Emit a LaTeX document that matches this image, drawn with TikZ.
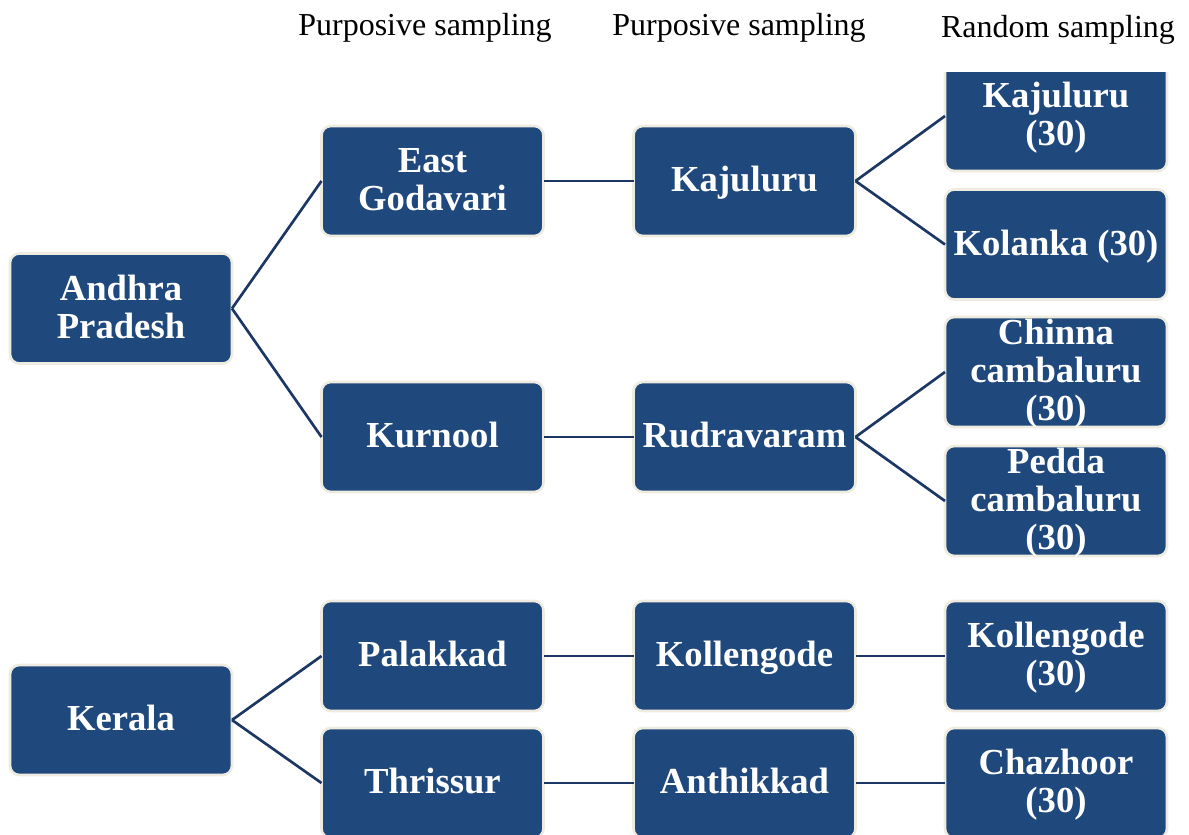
\documentclass[tikz,border=0pt]{standalone}
\usepackage{fontspec}
\setmainfont{Liberation Serif}
\definecolor{boxblue}{RGB}{31,73,125}
\definecolor{boxedge}{RGB}{238,236,225}
\definecolor{linkblue}{RGB}{28,55,100}
\begin{document}
\begin{tikzpicture}[x=0.75pt,y=-0.75pt,
  stagebox/.style={draw=boxedge,line width=2pt,fill=boxblue,rounded corners=7pt,
    minimum width=166.5pt,minimum height=82.5pt,inner sep=0pt,outer sep=0pt},
  boxtext/.style={text=white,align=center,inner sep=0pt,text depth=3pt,
    font=\bfseries\fontsize{27.5}{28.5}\selectfont},
  header/.style={inner sep=0pt,font=\fontsize{24}{28}\selectfont},
  link/.style={draw=linkblue,line width=2pt}]
\useasboundingbox (0,0) rectangle (1189,835);
\clip (0,0) rectangle (1189,835);

% column headings
\node[header,anchor=base] (h1) at (425,35) {Purposive sampling};
\node[header,anchor=base] (h2) at (739,35) {Purposive sampling};
\node[header,anchor=base] (h3) at (1058,37) {Random sampling};

% states
\node[stagebox] (ap) at (121,308.5) {};
\node[boxtext] (apt) at (ap.center) {Andhra\\Pradesh};
\node[stagebox] (kl) at (121,720) {};
\node[boxtext] (klt) at (kl.center) {Kerala};

% districts
\node[stagebox] (eg) at (432.5,181) {};
\node[boxtext] (egt) at (eg.center) {East\\Godavari};
\node[stagebox] (ku) at (432.5,437) {};
\node[boxtext] (kut) at (ku.center) {Kurnool};
\node[stagebox] (pk) at (432.5,656) {};
\node[boxtext] (pkt) at (pk.center) {Palakkad};
\node[stagebox] (th) at (432.5,783) {};
\node[boxtext] (tht) at (th.center) {Thrissur};

% blocks
\node[stagebox] (kj) at (744.5,181) {};
\node[boxtext] (kjt) at (kj.center) {Kajuluru};
\node[stagebox] (rv) at (744.5,437) {};
\node[boxtext] (rvt) at (rv.center) {Rudravaram};
\node[stagebox] (kg) at (744.5,656) {};
\node[boxtext] (kgt) at (kg.center) {Kollengode};
\node[stagebox] (an) at (744.5,783) {};
\node[boxtext] (ant) at (an.center) {Anthikkad};

% villages (the top box is cut off by the heading band)
\begin{scope}
  \clip (900,72) rectangle (1189,200);
  \node[stagebox] (v1) at (1056,116) {};
\end{scope}
\node[boxtext] (v1t) at (1056,116) {Kajuluru\\(30)};
\node[stagebox] (v2) at (1056,244.5) {};
\node[boxtext] (v2t) at (v2.center) {Kolanka (30)};
\node[stagebox] (v3) at (1056,372) {};
\node[boxtext] (v3t) at (v3.center) {Chinna\\cambaluru\\(30)};
\node[stagebox] (v4) at (1056,501) {};
\node[boxtext] (v4t) at (v4.center) {Pedda\\cambaluru\\(30)};
\node[stagebox] (v5) at (1056,656) {};
\node[boxtext] (v5t) at (v5.center) {Kollengode\\(30)};
\node[stagebox] (v6) at (1056,783) {};
\node[boxtext] (v6t) at (v6.center) {Chazhoor\\(30)};

% connectors
\draw[link] (ap.east) -- (eg.west);
\draw[link] (ap.east) -- (ku.west);
\draw[link] (kl.east) -- (pk.west);
\draw[link] (kl.east) -- (th.west);
\draw[link] (eg.east) -- (kj.west);
\draw[link] (ku.east) -- (rv.west);
\draw[link] (pk.east) -- (kg.west);
\draw[link] (th.east) -- (an.west);
\draw[link] (kj.east) -- (v1.west);
\draw[link] (kj.east) -- (v2.west);
\draw[link] (rv.east) -- (v3.west);
\draw[link] (rv.east) -- (v4.west);
\draw[link] (kg.east) -- (v5.west);
\draw[link] (an.east) -- (v6.west);
\end{tikzpicture}
\end{document}
